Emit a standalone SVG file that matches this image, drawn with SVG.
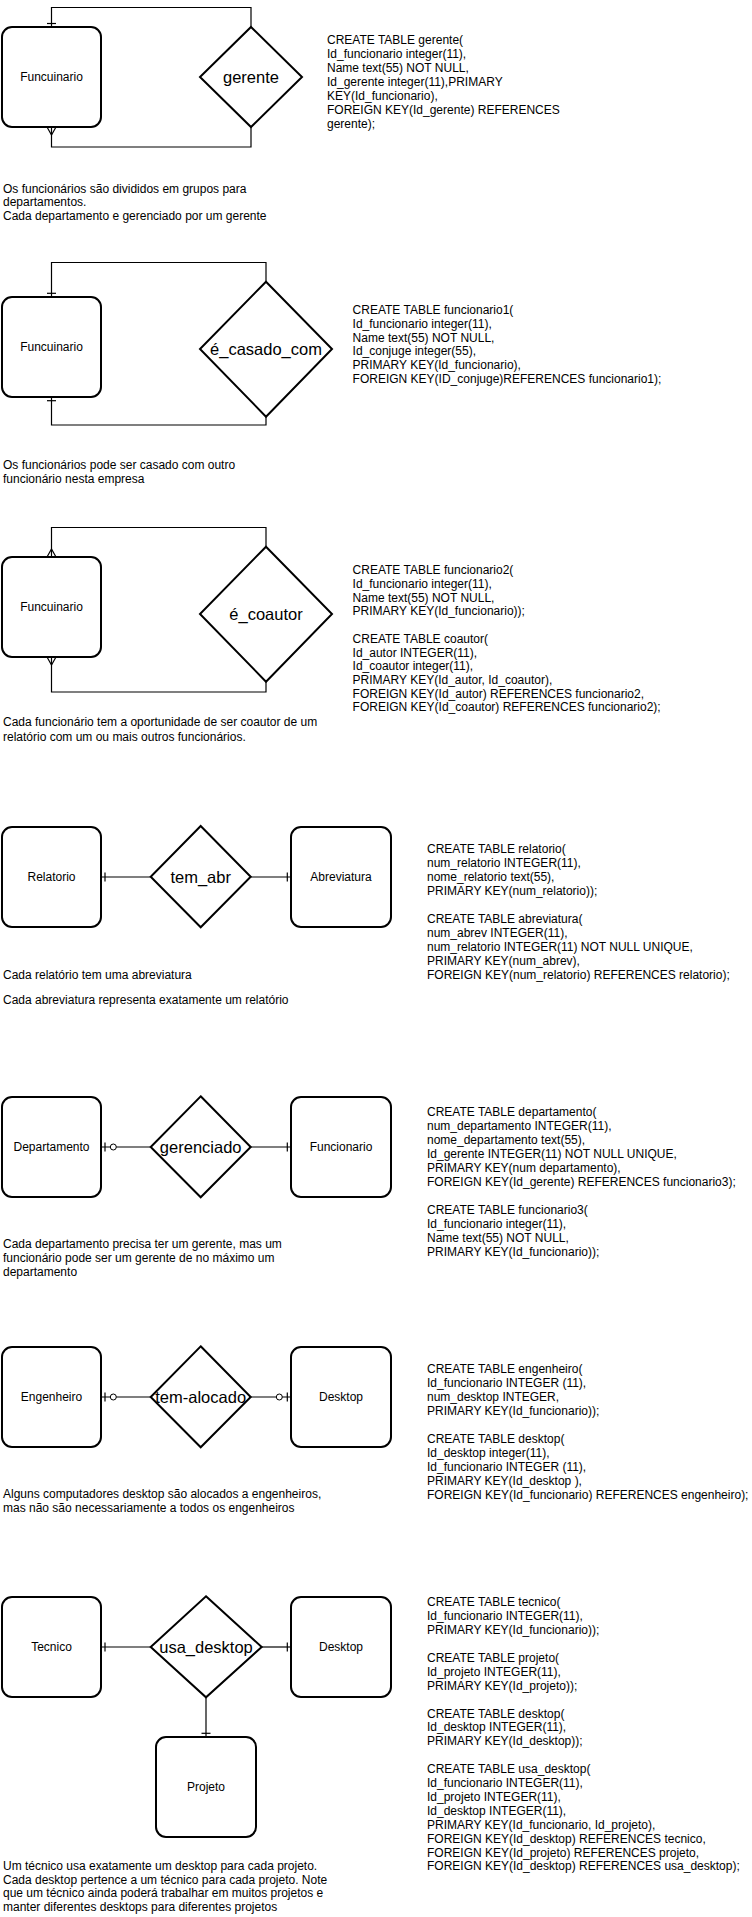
<svg xmlns="http://www.w3.org/2000/svg" width="752" height="1917" viewBox="0 0 752 1917">
<style>
.box{fill:#fff;stroke:#000;stroke-width:2}
.dia{fill:#fff;stroke:#000;stroke-width:2;stroke-linejoin:miter}
.ln{fill:none;stroke:#000;stroke-width:1.2}
.zc{fill:#fff;stroke:#000;stroke-width:1}
.t{font-family:"Liberation Sans",Arial,Helvetica,sans-serif;font-size:12px;fill:#000}
.c{text-anchor:middle}
.r{font-family:"Liberation Sans",Arial,Helvetica,sans-serif;font-size:16.5px;fill:#000;text-anchor:middle}
</style>
<rect width="752" height="1917" fill="#fff"/>

<g id="connectors">
  <!-- section 1 -->
  <path class="ln" d="M51.5,27 V7.5 H251 V27"/>
  <path class="ln" d="M47,23.5 H56"/>
  <path class="ln" d="M51.5,127 V147 H251 V127"/>
  <path class="ln" d="M47,127 L51.5,135 L56,127"/>
  <!-- section 2 -->
  <path class="ln" d="M51.5,297 V262.5 H266 V281.7"/>
  <path class="ln" d="M47,293.3 H56"/>
  <path class="ln" d="M51.5,397 V425 H266 V416.7"/>
  <path class="ln" d="M47,400.7 H56"/>
  <!-- section 3 -->
  <path class="ln" d="M51.5,557 V527.5 H266 V546.7"/>
  <path class="ln" d="M47,557 L51.5,549 L56,557"/>
  <path class="ln" d="M51.5,657 V692 H266 V681.7"/>
  <path class="ln" d="M47,657 L51.5,665 L56,657"/>
  <!-- section 4 -->
  <path class="ln" d="M101,877 H150.7"/>
  <path class="ln" d="M105,872.5 V881.5"/>
  <path class="ln" d="M250.7,877 H291"/>
  <path class="ln" d="M287.3,872.5 V881.5"/>
  <!-- section 5 -->
  <path class="ln" d="M101,1147 H150.7"/>
  <path class="ln" d="M105,1142.5 V1151.5"/>
  <circle class="zc" cx="113.3" cy="1147" r="3"/>
  <path class="ln" d="M250.7,1147 H291"/>
  <path class="ln" d="M287.3,1142.5 V1151.5"/>
  <!-- section 6 -->
  <path class="ln" d="M101,1397 H150.7"/>
  <path class="ln" d="M105,1392.5 V1401.5"/>
  <circle class="zc" cx="113.3" cy="1397" r="3"/>
  <path class="ln" d="M250.7,1397 H291"/>
  <circle class="zc" cx="279.3" cy="1397" r="3"/>
  <path class="ln" d="M287.3,1392.5 V1401.5"/>
  <!-- section 7 -->
  <path class="ln" d="M101,1647 H150.7"/>
  <path class="ln" d="M105,1642.5 V1651.5"/>
  <path class="ln" d="M261.7,1647 H291"/>
  <path class="ln" d="M287.3,1642.5 V1651.5"/>
  <path class="ln" d="M206,1697.3 V1737"/>
  <path class="ln" d="M201.5,1733.3 H210.5"/>
</g>

<!-- Section 1 -->
<g id="funcuinario1">
  <rect class="box" x="2" y="27" width="99" height="100" rx="10"/>
  <text class="t c" x="51.5" y="81.3">Funcuinario</text>
</g>
<g id="gerente">
  <polygon class="dia" points="251,27 302,77 251,127 200,77"/>
  <text class="r" x="251" y="82.8">gerente</text>
</g>
<g id="sql1">
  <text class="t" x="327" y="44.3">
    <tspan x="327">CREATE TABLE gerente(</tspan>
    <tspan x="327" dy="14">Id_funcionario integer(11),</tspan>
    <tspan x="327" dy="14">Name text(55) NOT NULL,</tspan>
    <tspan x="327" dy="14">Id_gerente integer(11),PRIMARY</tspan>
    <tspan x="327" dy="14">KEY(Id_funcionario),</tspan>
    <tspan x="327" dy="14">FOREIGN KEY(Id_gerente) REFERENCES</tspan>
    <tspan x="327" dy="14">gerente);</tspan>
  </text>
</g>
<g id="desc1">
  <text class="t" x="3" y="192.6">
    <tspan x="3">Os funcionários são divididos em grupos para</tspan>
    <tspan x="3" dy="13.8">departamentos.</tspan>
    <tspan x="3" dy="13.8">Cada departamento e gerenciado por um gerente</tspan>
  </text>
</g>

<!-- Section 2 -->
<g id="funcuinario2">
  <rect class="box" x="2" y="297" width="99" height="100" rx="10"/>
  <text class="t c" x="51.5" y="351.3">Funcuinario</text>
</g>
<g id="e_casado_com">
  <polygon class="dia" points="266,281.7 332,349 266,416.7 200,349"/>
  <text class="r" x="266" y="354.8">é_casado_com</text>
</g>
<g id="sql2">
  <text class="t" x="352.6" y="314.3">
    <tspan x="352.6">CREATE TABLE funcionario1(</tspan>
    <tspan x="352.6" dy="13.7">Id_funcionario integer(11),</tspan>
    <tspan x="352.6" dy="13.7">Name text(55) NOT NULL,</tspan>
    <tspan x="352.6" dy="13.7">Id_conjuge integer(55),</tspan>
    <tspan x="352.6" dy="13.7">PRIMARY KEY(Id_funcionario),</tspan>
    <tspan x="352.6" dy="13.7">FOREIGN KEY(ID_conjuge)REFERENCES funcionario1);</tspan>
  </text>
</g>
<g id="desc2">
  <text class="t" x="3" y="469.3">
    <tspan x="3">Os funcionários pode ser casado com outro</tspan>
    <tspan x="3" dy="13.8">funcionário nesta empresa</tspan>
  </text>
</g>

<!-- Section 3 -->
<g id="funcuinario3">
  <rect class="box" x="2" y="557" width="99" height="100" rx="10"/>
  <text class="t c" x="51.5" y="611.3">Funcuinario</text>
</g>
<g id="e_coautor">
  <polygon class="dia" points="266,546.7 332,614 266,681.7 200,614"/>
  <text class="r" x="266" y="619.8">é_coautor</text>
</g>
<g id="sql3">
  <text class="t" x="352.6" y="574.3">
    <tspan x="352.6">CREATE TABLE funcionario2(</tspan>
    <tspan x="352.6" dy="13.7">Id_funcionario integer(11),</tspan>
    <tspan x="352.6" dy="13.7">Name text(55) NOT NULL,</tspan>
    <tspan x="352.6" dy="13.7">PRIMARY KEY(Id_funcionario));</tspan>
    <tspan x="352.6" dy="27.4">CREATE TABLE coautor(</tspan>
    <tspan x="352.6" dy="13.7">Id_autor INTEGER(11),</tspan>
    <tspan x="352.6" dy="13.7">Id_coautor integer(11),</tspan>
    <tspan x="352.6" dy="13.7">PRIMARY KEY(Id_autor, Id_coautor),</tspan>
    <tspan x="352.6" dy="13.7">FOREIGN KEY(Id_autor) REFERENCES funcionario2,</tspan>
    <tspan x="352.6" dy="13.7">FOREIGN KEY(Id_coautor) REFERENCES funcionario2);</tspan>
  </text>
</g>
<g id="desc3">
  <text class="t" x="3" y="726">
    <tspan x="3">Cada funcionário tem a oportunidade de ser coautor de um</tspan>
    <tspan x="3" dy="14.6">relatório com um ou mais outros funcionários.</tspan>
  </text>
</g>

<!-- Section 4 -->
<g id="relatorio">
  <rect class="box" x="2" y="827" width="99" height="100" rx="10"/>
  <text class="t c" x="51.5" y="881.3">Relatorio</text>
</g>
<g id="tem_abr">
  <polygon class="dia" points="200.7,826 250.7,876.7 200.7,927.3 150.7,876.7"/>
  <text class="r" x="200.7" y="882.7">tem_abr</text>
</g>
<g id="abreviatura">
  <rect class="box" x="291" y="827" width="100" height="100" rx="10"/>
  <text class="t c" x="341" y="881.3">Abreviatura</text>
</g>
<g id="sql4">
  <text class="t" x="427" y="853.3">
    <tspan x="427">CREATE TABLE relatorio(</tspan>
    <tspan x="427" dy="14">num_relatorio INTEGER(11),</tspan>
    <tspan x="427" dy="14">nome_relatorio text(55),</tspan>
    <tspan x="427" dy="14">PRIMARY KEY(num_relatorio));</tspan>
    <tspan x="427" dy="28">CREATE TABLE abreviatura(</tspan>
    <tspan x="427" dy="14">num_abrev INTEGER(11),</tspan>
    <tspan x="427" dy="14">num_relatorio INTEGER(11) NOT NULL UNIQUE,</tspan>
    <tspan x="427" dy="14">PRIMARY KEY(num_abrev),</tspan>
    <tspan x="427" dy="14">FOREIGN KEY(num_relatorio) REFERENCES relatorio);</tspan>
  </text>
</g>
<g id="desc4">
  <text class="t" x="3" y="978.6">Cada relatório tem uma abreviatura</text>
  <text class="t" x="3" y="1004.3">Cada abreviatura representa exatamente um relatório</text>
</g>

<!-- Section 5 -->
<g id="departamento">
  <rect class="box" x="2" y="1097" width="99" height="100" rx="10"/>
  <text class="t c" x="51.5" y="1151.3">Departamento</text>
</g>
<g id="gerenciado">
  <polygon class="dia" points="200.7,1096.3 250.7,1147 200.7,1197.3 150.7,1147"/>
  <text class="r" x="200.7" y="1152.8">gerenciado</text>
</g>
<g id="funcionario5">
  <rect class="box" x="291" y="1097" width="100" height="100" rx="10"/>
  <text class="t c" x="341" y="1151.3">Funcionario</text>
</g>
<g id="sql5">
  <text class="t" x="427" y="1116.3">
    <tspan x="427">CREATE TABLE departamento(</tspan>
    <tspan x="427" dy="14">num_departamento INTEGER(11),</tspan>
    <tspan x="427" dy="14">nome_departamento text(55),</tspan>
    <tspan x="427" dy="14">Id_gerente INTEGER(11) NOT NULL UNIQUE,</tspan>
    <tspan x="427" dy="14">PRIMARY KEY(num departamento),</tspan>
    <tspan x="427" dy="14">FOREIGN KEY(Id_gerente) REFERENCES funcionario3);</tspan>
    <tspan x="427" dy="28">CREATE TABLE funcionario3(</tspan>
    <tspan x="427" dy="14">Id_funcionario integer(11),</tspan>
    <tspan x="427" dy="14">Name text(55) NOT NULL,</tspan>
    <tspan x="427" dy="14">PRIMARY KEY(Id_funcionario));</tspan>
  </text>
</g>
<g id="desc5">
  <text class="t" x="3" y="1248.3">
    <tspan x="3">Cada departamento precisa ter um gerente, mas um</tspan>
    <tspan x="3" dy="13.8">funcionário pode ser um gerente de no máximo um</tspan>
    <tspan x="3" dy="13.8">departamento</tspan>
  </text>
</g>

<!-- Section 6 -->
<g id="engenheiro">
  <rect class="box" x="2" y="1347" width="99" height="100" rx="10"/>
  <text class="t c" x="51.5" y="1401.3">Engenheiro</text>
</g>
<g id="tem_alocado">
  <polygon class="dia" points="200.7,1346.3 250.7,1397 200.7,1447.3 150.7,1397"/>
  <text class="r" x="200.7" y="1402.8">tem-alocado</text>
</g>
<g id="desktop6">
  <rect class="box" x="291" y="1347" width="100" height="100" rx="10"/>
  <text class="t c" x="341" y="1401.3">Desktop</text>
</g>
<g id="sql6">
  <text class="t" x="427" y="1373">
    <tspan x="427">CREATE TABLE engenheiro(</tspan>
    <tspan x="427" dy="14">Id_funcionario INTEGER (11),</tspan>
    <tspan x="427" dy="14">num_desktop INTEGER,</tspan>
    <tspan x="427" dy="14">PRIMARY KEY(Id_funcionario));</tspan>
    <tspan x="427" dy="28">CREATE TABLE desktop(</tspan>
    <tspan x="427" dy="14">Id_desktop integer(11),</tspan>
    <tspan x="427" dy="14">Id_funcionario INTEGER (11),</tspan>
    <tspan x="427" dy="14">PRIMARY KEY(Id_desktop ),</tspan>
    <tspan x="427" dy="14">FOREIGN KEY(Id_funcionario) REFERENCES engenheiro);</tspan>
  </text>
</g>
<g id="desc6">
  <text class="t" x="3" y="1498.3">
    <tspan x="3">Alguns computadores desktop são alocados a engenheiros,</tspan>
    <tspan x="3" dy="13.8">mas não são necessariamente a todos os engenheiros</tspan>
  </text>
</g>

<!-- Section 7 -->
<g id="tecnico">
  <rect class="box" x="2" y="1597" width="99" height="100" rx="10"/>
  <text class="t c" x="51.5" y="1651.3">Tecnico</text>
</g>
<g id="usa_desktop">
  <polygon class="dia" points="206,1596.3 261.7,1647 206,1697.3 150.7,1647"/>
  <text class="r" x="206" y="1652.8">usa_desktop</text>
</g>
<g id="desktop7">
  <rect class="box" x="291" y="1597" width="100" height="100" rx="10"/>
  <text class="t c" x="341" y="1651.3">Desktop</text>
</g>
<g id="projeto">
  <rect class="box" x="156" y="1737" width="100" height="100" rx="10"/>
  <text class="t c" x="206" y="1791.3">Projeto</text>
</g>
<g id="sql7">
  <text class="t" x="427" y="1606.3">
    <tspan x="427">CREATE TABLE tecnico(</tspan>
    <tspan x="427" dy="13.9">Id_funcionario INTEGER(11),</tspan>
    <tspan x="427" dy="13.9">PRIMARY KEY(Id_funcionario));</tspan>
    <tspan x="427" dy="27.8">CREATE TABLE projeto(</tspan>
    <tspan x="427" dy="13.9">Id_projeto INTEGER(11),</tspan>
    <tspan x="427" dy="13.9">PRIMARY KEY(Id_projeto));</tspan>
    <tspan x="427" dy="27.8">CREATE TABLE desktop(</tspan>
    <tspan x="427" dy="13.9">Id_desktop INTEGER(11),</tspan>
    <tspan x="427" dy="13.9">PRIMARY KEY(Id_desktop));</tspan>
    <tspan x="427" dy="27.8">CREATE TABLE usa_desktop(</tspan>
    <tspan x="427" dy="13.9">Id_funcionario INTEGER(11),</tspan>
    <tspan x="427" dy="13.9">Id_projeto INTEGER(11),</tspan>
    <tspan x="427" dy="13.9">Id_desktop INTEGER(11),</tspan>
    <tspan x="427" dy="13.9">PRIMARY KEY(Id_funcionario, Id_projeto),</tspan>
    <tspan x="427" dy="13.9">FOREIGN KEY(Id_desktop) REFERENCES tecnico,</tspan>
    <tspan x="427" dy="13.9">FOREIGN KEY(Id_projeto) REFERENCES projeto,</tspan>
    <tspan x="427" dy="13.9">FOREIGN KEY(Id_desktop) REFERENCES usa_desktop);</tspan>
  </text>
</g>
<g id="desc7">
  <text class="t" x="3" y="1870.3">
    <tspan x="3">Um técnico usa exatamente um desktop para cada projeto.</tspan>
    <tspan x="3" dy="13.5">Cada desktop pertence a um técnico para cada projeto. Note</tspan>
    <tspan x="3" dy="13.5">que um técnico ainda poderá trabalhar em muitos projetos e</tspan>
    <tspan x="3" dy="13.5">manter diferentes desktops para diferentes projetos</tspan>
  </text>
</g>
</svg>
